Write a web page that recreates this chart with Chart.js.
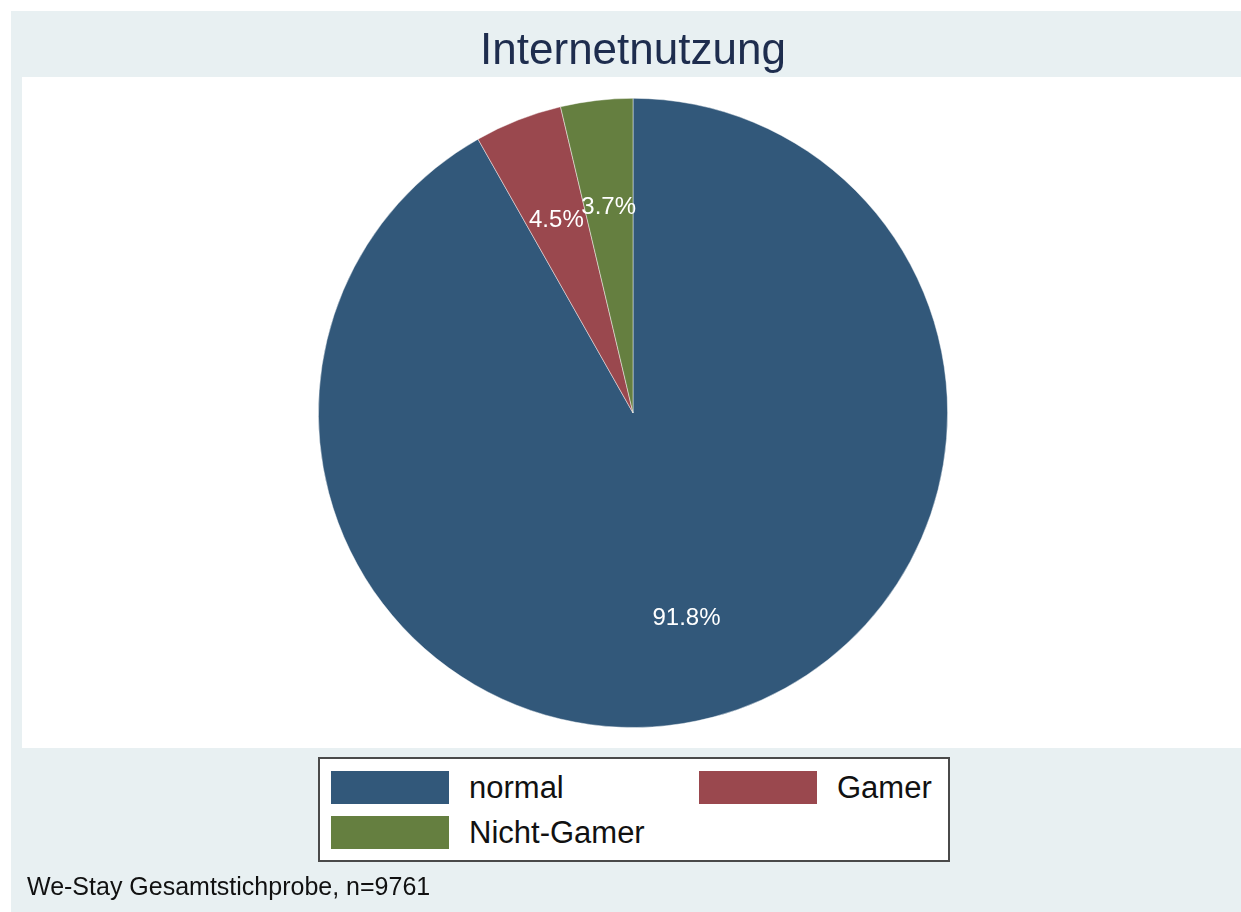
<!DOCTYPE html>
<html>
<head>
<meta charset="utf-8">
<title>Internetnutzung</title>
<script src="https://cdn.jsdelivr.net/npm/chart.js@4.4.6/dist/chart.umd.min.js"></script>
<style>
  html, body { margin: 0; padding: 0; background: #fff; }
  #wrap { position: relative; width: 1241px; height: 912px; overflow: hidden; }
  #pie { position: absolute; left: 0; top: 0; }
  #legend {
    position: absolute; left: 318px; top: 757px; width: 628px; height: 101px;
    background: #fff; border: 2px solid #4a4a4a;
    font-family: "Liberation Sans", Arial, sans-serif; font-size: 31px; color: #111;
  }
  .item { position: absolute; height: 33px; display: flex; align-items: center; white-space: nowrap; }
  .swatch { width: 118px; height: 33px; margin-right: 20px; flex: none; }
</style>
</head>
<body>
<div id="wrap">
  <canvas id="pie" width="1241" height="912"></canvas>
  <div id="legend"></div>
</div>
<script>
// values (percent of sample)
const categories = ['normal', 'Gamer', 'Nicht-Gamer'];
const shares = [91.8, 4.5, 3.7];
const sliceColors = ['#32587a', '#9a484e', '#657f40'];
const titleText = 'Internetnutzung';
const noteText = 'We-Stay Gesamtstichprobe, n=9761';

const FONT = '"Liberation Sans", Arial, sans-serif';

// stata-ish backdrop: light frame with white plot region
const backdrop = {
  id: 'backdrop',
  beforeDraw(chart){
    const ctx = chart.ctx;
    ctx.save();
    ctx.fillStyle = '#fff';
    ctx.fillRect(0, 0, chart.width, chart.height);
    ctx.fillStyle = '#e8f0f2';
    ctx.fillRect(11, 11, chart.width - 11, chart.height - 11);
    ctx.fillStyle = '#fff';
    ctx.fillRect(22, 77, chart.width - 22, 671);
    ctx.restore();
  }
};

// percent labels at 2/3 of the radius, like the original
const sliceLabels = {
  id: 'sliceLabels',
  afterDatasetsDraw(chart){
    const ctx = chart.ctx;
    const meta = chart.getDatasetMeta(0);
    ctx.save();
    ctx.font = '24px ' + FONT;
    ctx.fillStyle = '#fff';
    ctx.textAlign = 'center';
    ctx.textBaseline = 'middle';
    meta.data.forEach((arc, i) => {
      const p = arc.getProps(['x', 'y', 'startAngle', 'endAngle', 'outerRadius'], true);
      const mid = (p.startAngle + p.endAngle) / 2;
      const r = p.outerRadius * 0.667;
      ctx.fillText(shares[i].toFixed(1) + '%', p.x + Math.cos(mid) * r, p.y + Math.sin(mid) * r + 3);
    });
    ctx.restore();
  }
};

new Chart(document.getElementById('pie'), {
  type: 'pie',
  data: {
    labels: categories,
    datasets: [{
      data: shares,
      backgroundColor: sliceColors,
      borderColor: 'rgba(255,255,255,0.45)',
      borderWidth: 1
    }]
  },
  options: {
    responsive: false,
    animation: false,
    devicePixelRatio: 1,
    layout: { padding: { left: 27, right: 2, top: 11, bottom: 0 } },
    plugins: {
      legend: { display: false },
      tooltip: { enabled: false },
      title: {
        display: true,
        text: titleText,
        color: '#1e2d4e',
        font: { family: FONT, size: 44, weight: 'normal' },
        padding: { top: 14, bottom: 20 }
      },
      subtitle: {
        display: true,
        position: 'bottom',
        align: 'start',
        text: noteText,
        color: '#111',
        font: { family: FONT, size: 25, weight: 'normal' },
        padding: { top: 145, bottom: 9 }
      }
    }
  },
  plugins: [backdrop, sliceLabels]
});

// legend box (two columns) built from the same arrays
const legendEl = document.getElementById('legend');
categories.forEach((name, i) => {
  const col = i % 2, row = Math.floor(i / 2);
  const item = document.createElement('div');
  item.className = 'item';
  item.style.left = (col ? 379 : 11) + 'px';
  item.style.top = (row ? 57 : 12) + 'px';
  const sw = document.createElement('span');
  sw.className = 'swatch';
  sw.style.background = sliceColors[i];
  const tx = document.createElement('span');
  tx.textContent = name;
  item.appendChild(sw);
  item.appendChild(tx);
  legendEl.appendChild(item);
});
</script>
</body>
</html>
